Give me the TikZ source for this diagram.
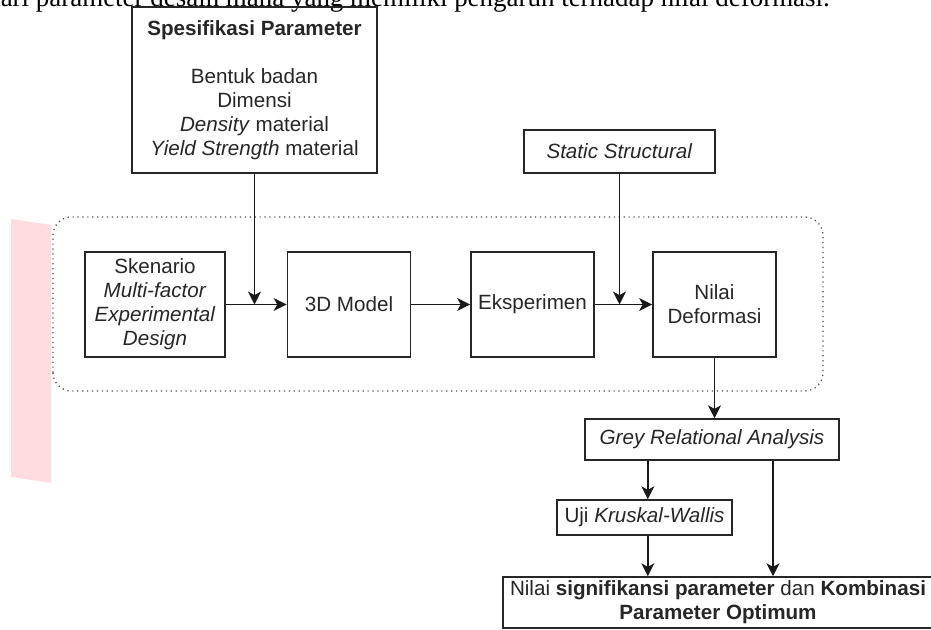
\documentclass[tikz,border=0pt]{standalone}
\usepackage{fontspec}
\setmainfont{Liberation Sans}
\newfontfamily\bodyserif{Liberation Serif}
\usepackage{xcolor}
\usepackage{tikz}
\usetikzlibrary{arrows.meta,calc,positioning}
\definecolor{pinkband}{RGB}{255,220,223}

\tikzset{
  box/.style={draw=black!85, line width=1.3pt, align=center, inner sep=0pt, text=black!85},
  arrow/.style={-{Stealth[length=11pt,width=11pt,inset=3pt]}, line width=1.3pt, black!90},
}

\begin{document}
\begin{tikzpicture}[font=\fontsize{17.6pt}{20.5pt}\selectfont]
    \clip (0,0) rectangle (27.93,18.9);
    % cut-off line of body text
    \node[anchor=base east, inner sep=0pt, font=\bodyserif\fontsize{23pt}{27pt}\selectfont] (kalimat) at (24.9,18.69)
        {dari parameter desain mana yang memiliki pengaruh terhadap nilai deformasi.};

    % pink band and dotted frame
    \fill[pinkband] (0.33,12.33) -- (1.53,12.15) -- (1.53,4.41) -- (0.33,4.59) -- cycle;
    \draw[gray!60!black, line width=1.1pt, dash pattern=on 1pt off 3.2pt, rounded corners=0.55cm] (1.59,7.17) rectangle (24.69,12.39);

    % inputs
    \node[box, minimum width=7.35cm, minimum height=4.98cm] (spek) at (7.635,16.2)
        {\rule{0pt}{8pt}\textbf{Spesifikasi Parameter}\\[20.5pt] Bentuk badan\\ Dimensi\\ \textit{Density} material\\ \textit{Yield Strength} material};
    \node[box, minimum width=5.73cm, minimum height=1.29cm] (static) at (18.585,14.355) {\textit{Static Structural}};

    % main row
    \node[box, minimum width=4.2cm, minimum height=3.15cm] (skenario) at (4.65,9.765)
        {Skenario\\ \textit{Multi-factor}\\ \textit{Experimental}\\ \textit{Design}};
    \node[box, minimum width=3.7cm, minimum height=3.15cm] (model) at (10.47,9.765) {3D Model};
    \node[box, minimum width=3.7cm, minimum height=3.15cm] (eksperimen) at (15.975,9.765) {Eksperimen};
    \node[box, minimum width=3.7cm, minimum height=3.15cm] (deformasi) at (21.435,9.765) {Nilai\\ Deformasi};

    % analysis
    \node[box, minimum width=7.62cm, minimum height=1.23cm] (gra) at (21.36,5.715) {\textit{Grey Relational Analysis}};
    \node[box, minimum width=5.25cm, minimum height=1.05cm] (kruskal) at (19.335,3.375) {Uji \textit{Kruskal-Wallis}};
    \node[box, minimum width=12.9cm, minimum height=1.53cm] (hasil) at (21.54,0.825)
        {Nilai \textbf{signifikansi parameter} dan \textbf{Kombinasi}\\ \textbf{Parameter Optimum}};

    % connectors
    \draw[arrow] (skenario) -- (model);
    \draw[arrow] (model) -- (eksperimen);
    \draw[arrow] (eksperimen) -- (deformasi);
    \draw[arrow] (spek.south) -- (spek.south |- skenario.east);
    \draw[arrow] (static.south) -- (static.south |- deformasi.west);
    \draw[arrow] (deformasi.south) -- (deformasi.south |- gra.north);
    \draw[arrow] ([xshift=0.1cm]kruskal.north |- gra.south) -- ([xshift=0.1cm]kruskal.north);
    \draw[arrow] ([xshift=0.1cm]kruskal.south) -- ([xshift=0.1cm]kruskal.south |- hasil.north);
    \draw[arrow] ([xshift=1.83cm]gra.south) -- ([xshift=1.83cm]gra.south |- hasil.north);
\end{tikzpicture}
\end{document}
